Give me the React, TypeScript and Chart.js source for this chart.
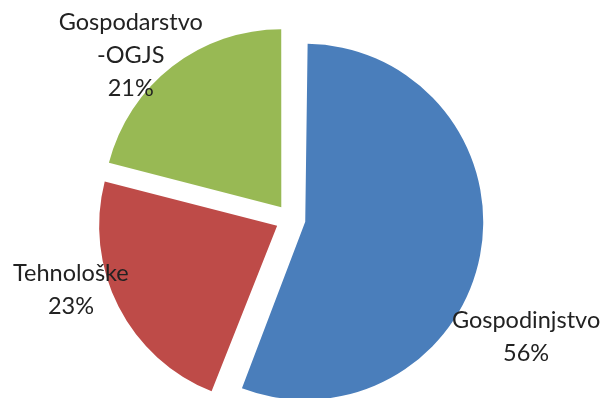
import React, { useEffect, useRef } from "react";
import { Chart, registerables } from "chart.js";

Chart.register(...registerables);

// Data
const categories: string[][] = [["Gospodinjstvo"], ["Tehnološke"], ["Gospodarstvo", "-OGJS"]];
const shares: number[] = [56, 23, 21];
const sliceColors: string[] = ["#4A7EBB", "#BE4B48", "#98B954"];

// Label placement around the pie (angle clockwise from 12 o'clock, distance in radii)
const labelAngles: number[] = [116.6, 252, 315.6];
const labelDistances: number[] = [1.48, 1.297, 1.283];

const PIE_RADIUS = 178;
const EXPLODE = 60; // Chart.js shifts each slice by offset/4

// Chart.js enlarges slices wider than a half-circle by offset/4; undo that so every slice keeps one radius
const equalRadiusPlugin = {
  id: "equalRadius",
  afterDatasetUpdate(chart: any, args: any) {
    const meta = chart.getDatasetMeta(args.index);
    meta.data.forEach((arc: any) => {
      const o = (arc.options?.offset || 0) / 4;
      const fix = 1 - Math.sin(Math.min(Math.PI, arc.circumference || 0));
      arc.outerRadius = PIE_RADIUS - o * fix;
    });
  },
};

const labelPlugin = {
  id: "sliceLabels",
  afterDraw(chart: any) {
    const meta = chart.getDatasetMeta(0);
    const ctx = chart.ctx;
    const ds = chart.data.datasets[0].data as number[];
    const total = ds.reduce((a: number, b: number) => a + b, 0);
    const first = meta.data[0];
    if (!first) return;
    const cx = first.x;
    const cy = first.y;
    const r = PIE_RADIUS;
    ctx.save();
    ctx.font = "23.5px Lato";
    ctx.fillStyle = "#222222";
    ctx.textAlign = "center";
    ctx.textBaseline = "middle";
    const lineH = 33;
    meta.data.forEach((_arc: any, i: number) => {
      const a = (labelAngles[i] * Math.PI) / 180;
      const d = labelDistances[i] * r;
      const x = cx + Math.sin(a) * d;
      const y = cy - Math.cos(a) * d;
      const lines = [...(chart.data.labels[i] as string[]), Math.round((ds[i] / total) * 100) + "%"];
      const y0 = y - ((lines.length - 1) * lineH) / 2;
      lines.forEach((t, k) => ctx.fillText(t, x, y0 + k * lineH));
    });
    ctx.restore();
  },
};

export default function App() {
  const ref = useRef<HTMLCanvasElement | null>(null);
  useEffect(() => {
    document.body.style.margin = "0";
    const chart = new Chart(ref.current as HTMLCanvasElement, {
      type: "pie",
      data: {
        labels: categories,
        datasets: [
          {
            data: shares,
            backgroundColor: sliceColors,
            borderWidth: 0,
            offset: EXPLODE,
          },
        ],
      },
      options: {
        responsive: false,
        animation: false,
        radius: PIE_RADIUS,
        layout: { padding: { left: 0, right: 24, top: 40, bottom: 0 } },
        plugins: { legend: { display: false }, tooltip: { enabled: false } },
        events: [],
      } as any,
      plugins: [equalRadiusPlugin, labelPlugin],
    });
    return () => chart.destroy();
  }, []);
  return (
    <div style={{ width: 605, height: 398, background: "#fff" }}>
      <canvas ref={ref} width={605} height={398} />
    </div>
  );
}
